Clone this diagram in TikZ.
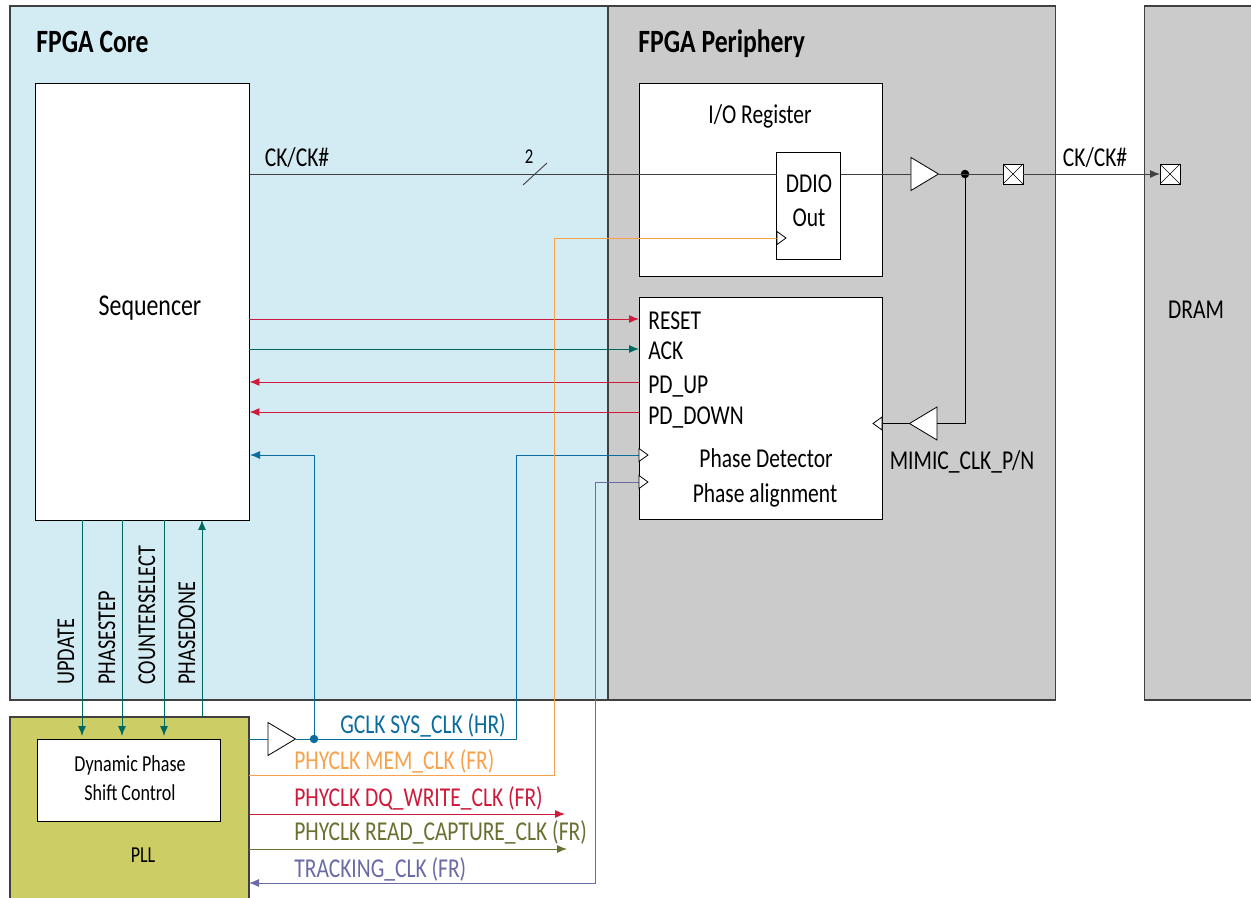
\documentclass[tikz,border=0pt]{standalone}
\usepackage{fontspec}
\setmainfont[FakeStretch=0.79]{Carlito}
\definecolor{fpgaCore}{HTML}{D3ECF3}
\definecolor{fpgaGray}{HTML}{CBCBCB}
\definecolor{fpgaOlive}{HTML}{CDCD66}
\definecolor{fpgaEdge}{HTML}{404040}
\definecolor{sigRed}{HTML}{CE1B3C}
\definecolor{sigTeal}{HTML}{00695F}
\definecolor{sigBlue}{HTML}{0A6C9F}
\definecolor{sigOrange}{HTML}{F7A24B}
\definecolor{sigGreen}{HTML}{6B6F2F}
\definecolor{sigPurple}{HTML}{6A6AA5}
\usetikzlibrary{
	arrows.meta,
	positioning,
	shapes.geometric
}
\tikzset{
	panel/.style={
		draw=fpgaEdge,
		line width=0.7pt,
		outer sep=0pt,
		inner sep=0pt
	},
	caja/.style={
		draw=black,
		fill=white,
		line width=0.5pt,
		outer sep=0pt,
		inner sep=0pt,
		align=center
	},
	texto/.style={
		inner sep=0pt,
		font=\fontsize{15.5}{18}\selectfont
	},
	vertical/.style={
		inner sep=0pt,
		rotate=90,
		anchor=west,
		font=\fontsize{14.6}{17}\selectfont
	},
	titulo/.style={
		inner sep=0pt,
		font=\fontsize{18.5}{21}\selectfont\bfseries
	},
	buffer/.style={
		draw=black,
		fill=white,
		line width=0.45pt,
		isosceles triangle,
		isosceles triangle stretches,
		minimum width=0.66cm,
		minimum height=0.55cm,
		outer sep=0pt,
		inner sep=0pt
	},
	reloj/.style={
		buffer,
		minimum width=0.26cm,
		minimum height=0.18cm
	},
	pin/.style={
		draw=black,
		fill=white,
		line width=0.45pt,
		minimum size=0.4cm,
		outer sep=0pt,
		inner sep=0pt,
		path picture={
			\draw[line width=0.35pt] (path picture bounding box.north west) -- (path picture bounding box.south east);
			\draw[line width=0.35pt] (path picture bounding box.south west) -- (path picture bounding box.north east);
		}
	},
	punto/.style={
		circle,
		fill=#1,
		minimum size=0.17cm,
		outer sep=0pt,
		inner sep=0pt
	},
	linea/.style={
		line width=0.52pt,
		#1
	},
	flecha/.style={
		-{Latex[length=0.2cm,width=0.16cm]},
		line width=0.52pt,
		#1
	}
}
\begin{document}
\begin{tikzpicture}[x=0.02cm,y=-0.02cm]
	\useasboundingbox (0,0) rectangle (1251,898);
	\node[panel, fill=fpgaCore, minimum width=11.96cm, minimum height=13.88cm] (core) at (309,353) {};
	\node[panel, fill=fpgaGray, minimum width=8.96cm, minimum height=13.88cm, right=0pt of core] (periphery) {};
	\node[panel, fill=fpgaGray, minimum width=2.3cm, minimum height=13.88cm, right=1.78cm of periphery] (dram) {};
	\node[panel, fill=fpgaOlive, minimum width=4.78cm, minimum height=3.76cm] (pll) at (129.5,811) {};
	\node[caja, minimum width=4.28cm, minimum height=8.74cm] (seq) at (142.5,301.5) {};
	\node[caja, minimum width=4.86cm, minimum height=3.86cm] (ioreg) at (760.5,179.5) {};
	\node[caja, minimum width=1.28cm, minimum height=2.14cm] (ddio) at (808.5,206) {};
	\node[caja, minimum width=4.86cm, minimum height=4.46cm, below=0.42cm of ioreg] (phase) {};
	\node[caja, minimum width=3.66cm, minimum height=1.64cm] (dps) at (129,780) {};

	\node[titulo, anchor=west] (coretxt) at (36,42) {FPGA Core};
	\node[titulo, anchor=west] (periphtxt) at (638,44) {FPGA Periphery};
	\node[texto, font=\fontsize{17.2}{20}\selectfont] (seqtxt) at (150,308) {Sequencer};
	\node[texto] (iotxt) at (760,116) {I/O Register};
	\node[texto] (ddiotxt) at (809,184) {DDIO};
	\node[texto] (outtxt) at (809,218) {Out};
	\node[texto] (dramtxt) at (1196,310) {DRAM};
	\node[texto, font=\fontsize{13}{15}\selectfont] (dps1txt) at (130,765) {Dynamic Phase};
	\node[texto, font=\fontsize{13}{15}\selectfont] (dps2txt) at (130,793) {Shift Control};
	\node[texto, font=\fontsize{13}{15}\selectfont] (plltxt) at (143,855) {PLL};
	\node[texto, anchor=west] (rsttxt) at (648,321) {RESET};
	\node[texto, anchor=west] (acktxt) at (648,351) {ACK};
	\node[texto, anchor=west] (uptxt) at (648,387) {PD\_UP};
	\node[texto, anchor=west] (downtxt) at (648,417) {PD\_DOWN};
	\node[texto] (pdtxt) at (766,458) {Phase Detector};
	\node[texto] (patxt) at (765,495) {Phase alignment};
	\node[texto] (mimictxt) at (962,462) {MIMIC\_CLK\_P/N};
	\node[texto] (ck1txt) at (297,158) {CK/CK\#};
	\node[texto] (ck2txt) at (1095,158) {CK/CK\#};
	\node[texto, font=\fontsize{12}{14}\selectfont] (widthtxt) at (529,157) {2};
	\node[vertical] (updtxt) at (66,685) {UPDATE};
	\node[vertical] (steptxt) at (107,685) {PHASESTEP};
	\node[vertical] (seltxt) at (147,685) {COUNTERSELECT};
	\node[vertical] (donetxt) at (187,685) {PHASEDONE};
	\node[texto, anchor=west, text=sigBlue] (gclktxt) at (340,725) {GCLK SYS\_CLK (HR)};
	\node[texto, anchor=west, text=sigOrange] (memtxt) at (294,761) {PHYCLK MEM\_CLK (FR)};
	\node[texto, anchor=west, text=sigRed] (dqtxt) at (294,798) {PHYCLK DQ\_WRITE\_CLK (FR)};
	\node[texto, anchor=west, text=sigGreen] (readtxt) at (294,832) {PHYCLK READ\_CAPTURE\_CLK (FR)};
	\node[texto, anchor=west, text=sigPurple] (tracktxt) at (294,869) {TRACKING\_CLK (FR)};

	\node[buffer, anchor=west] (buf1) at (911,174) {};
	\node[buffer, shape border rotate=180, anchor=east] (buf2) at (937,423.5) {};
	\node[buffer, anchor=west] (buf3) at (268,739) {};
	\node[pin] (pin1) at (1013,174) {};
	\node[pin] (pin2) at (1170,174) {};
	\node[punto=black] (dot1) at (965,174) {};
	\node[punto=sigBlue] (dot2) at (314,739) {};
	\coordinate (tick1) at (523,185);
	\coordinate (tick2) at (547,163);
	\coordinate (ckport) at (250,174);
	\coordinate (rstport) at (639,319);
	\coordinate (ackport) at (639,349);
	\coordinate (upport) at (639,382);
	\coordinate (downport) at (639,412);
	\coordinate (seqport) at (250,455);
	\coordinate (pdport) at (639,455);
	\coordinate (paport) at (639,482);
	\coordinate (ddioport) at (777,238);
	\coordinate (mimicport) at (882,423.5);
	\coordinate (memport) at (249,775);
	\coordinate (dqport) at (249,814);
	\coordinate (readport) at (249,849);
	\coordinate (trackport) at (249,883);
	\coordinate (dqend) at (565,814);
	\coordinate (readend) at (567,849);
	\coordinate (updport) at (82,520);
	\coordinate (stepport) at (122,520);
	\coordinate (selport) at (164,520);
	\coordinate (doneport) at (202,520);

	\draw[linea=black!75] (ckport) -- (ddio.west |- ckport);
	\draw[linea=black!75] (tick1) -- (tick2);
	\draw[linea=black!75] (ddio.east |- buf1) -- (buf1.west);
	\draw[linea=black!75] (buf1.east) -- (pin1.west);
	\draw[flecha=black!75] (pin1.east) -- (pin2.west);
	\draw[linea=black] (dot1) |- (buf2.east);
	\draw[linea=black] (buf2.west) -- (mimicport);
	\draw[flecha=sigRed] (seq.east |- rstport) -- (rstport);
	\draw[flecha=sigTeal] (seq.east |- ackport) -- (ackport);
	\draw[flecha=sigRed] (upport) -- (seq.east |- upport);
	\draw[flecha=sigRed] (downport) -- (seq.east |- downport);
	\draw[flecha=sigBlue] (dot2) |- (seqport);
	\draw[linea=sigBlue] (pll.east |- buf3) -- (buf3.west);
	\draw[linea=sigBlue] (buf3.east) -- (dot2);
	\draw[linea=sigBlue] (dot2) -- (516,739) |- (pdport);
	\draw[linea=sigOrange] (memport) -- (554,775) |- (ddioport);
	\draw[flecha=sigRed] (dqport) -- (dqend);
	\draw[flecha=sigGreen] (readport) -- (readend);
	\draw[flecha=sigPurple] (paport) -- (595,482) |- (trackport);
	\draw[flecha=sigTeal, shorten >=0.06cm] (updport) -- (dps.north -| updport);
	\draw[flecha=sigTeal, shorten >=0.06cm] (stepport) -- (dps.north -| stepport);
	\draw[flecha=sigTeal, shorten >=0.06cm] (selport) -- (dps.north -| selport);
	\draw[flecha=sigTeal] (pll.north -| doneport) -- (doneport);

	\node[reloj, anchor=west] (clk1) at (777,238) {};
	\node[reloj, anchor=west] (clk2) at (639,455) {};
	\node[reloj, anchor=west] (clk3) at (639,482) {};
	\node[reloj, shape border rotate=180, anchor=east] (clk4) at (882,423.5) {};
\end{tikzpicture}
\end{document}
